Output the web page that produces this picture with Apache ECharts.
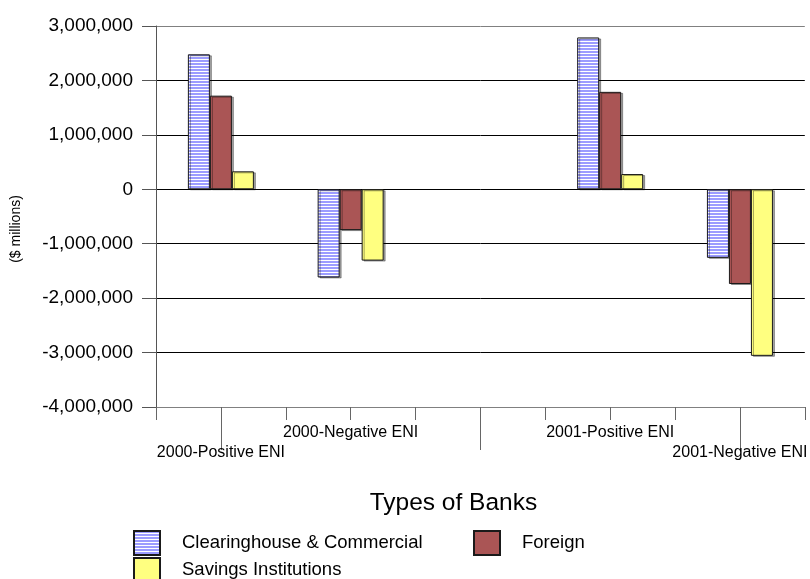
<!DOCTYPE html>
<html>
<head>
<meta charset="utf-8">
<script src="https://cdn.jsdelivr.net/npm/echarts@6/dist/echarts.min.js"></script>
<style>
  html, body { margin: 0; padding: 0; background: #fff; }
  #chart { width: 810px; height: 579px; }
</style>
</head>
<body>
<div id="chart"></div>
<script>
// ---- data ----
const categories = ['2000-Positive ENI', '2000-Negative ENI', '', '2001-Positive ENI', '2001-Negative ENI'];
const seriesNames = ['Clearinghouse & Commercial', 'Foreign', 'Savings Institutions'];
const clearingValues = [2480000, -1620000, null, 2790000, -1260000];
const foreignValues = [1720000, -750000, null, 1790000, -1740000];
const savingsValues = [330000, -1310000, null, 280000, -3060000];
const yTicks = { min: -4000000, max: 3000000, interval: 1000000 };
const xAxisTitle = 'Types of Banks';
const yAxisTitle = '($ millions)';

// ---- styles ----
const FONT = '"Liberation Sans", Arial, sans-serif';

function stripePattern() {
  const c = document.createElement('canvas');
  c.width = 4; c.height = 3;
  const ctx = c.getContext('2d');
  ctx.fillStyle = '#9C9CFF';
  ctx.fillRect(0, 0, 4, 3);
  ctx.fillStyle = '#FFFFFF';
  ctx.fillRect(0, 2, 4, 1);
  return { image: c, repeat: 'repeat' };
}

const barStyle = (color) => ({
  color: color,
  borderColor: '#1a1a1a',
  borderWidth: 1,
  shadowColor: 'rgba(0,0,0,0.35)',
  shadowOffsetX: 2,
  shadowOffsetY: 1,
  shadowBlur: 0
});

const chart = echarts.init(document.getElementById('chart'), null, { renderer: 'canvas' });

const gridLineColors = ['#808080', '#000', '#000', '#000', '#000', '#000', '#000', '#808080'];

const legendCommon = {
  padding: 0,
  itemWidth: 26,
  itemHeight: 24,
  icon: 'rect',
  textStyle: { fontFamily: FONT, fontSize: 18.5, color: '#000', padding: [0, 0, 0, 17] }
};

const option = {
  animation: false,
  backgroundColor: '#fff',
  grid: { left: 156, right: 0, top: 26, bottom: 172, containLabel: false },
  legend: [
    Object.assign({ data: [seriesNames[0]], left: 133, top: 530 }, legendCommon),
    Object.assign({ data: [seriesNames[1]], left: 473, top: 530 }, legendCommon),
    Object.assign({ data: [seriesNames[2]], left: 133, top: 557 }, legendCommon)
  ],
  xAxis: [
    {
      type: 'category',
      data: categories,
      boundaryGap: true,
      position: 'bottom',
      name: xAxisTitle,
      nameLocation: 'middle',
      nameGap: 84,
      nameTextStyle: { fontFamily: FONT, fontSize: 24.5, color: '#000', padding: [0, 54, 0, 0] },
      axisLine: { show: true, onZero: false, lineStyle: { color: '#808080', width: 1 } },
      axisTick: { show: true, alignWithLabel: false, interval: 0, length: 13, lineStyle: { color: '#666' } },
      axisLabel: {
        interval: 0,
        margin: 16,
        fontFamily: FONT,
        fontSize: 16,
        lineHeight: 20,
        color: '#000',
        formatter: (v, i) => (i % 2 === 0 ? '\n' + v : v)
      },
      splitLine: { show: false }
    },
    {
      type: 'category',
      data: categories,
      boundaryGap: true,
      position: 'bottom',
      offset: 0,
      axisLine: { show: false, onZero: false },
      axisTick: { show: true, alignWithLabel: true, interval: (i) => i % 2 === 0, length: 43, lineStyle: { color: '#666' } },
      axisLabel: { show: false },
      splitLine: { show: false }
    },
    {
      type: 'category',
      data: categories,
      boundaryGap: true,
      position: 'bottom',
      offset: 0,
      axisLine: { show: false, onZero: false },
      axisTick: { show: true, alignWithLabel: true, interval: (i) => i % 2 === 1, length: 13, lineStyle: { color: '#666' } },
      axisLabel: { show: false },
      splitLine: { show: false }
    }
  ],
  yAxis: {
    type: 'value',
    min: yTicks.min,
    max: yTicks.max,
    interval: yTicks.interval,
    axisLine: { show: true, onZero: false, lineStyle: { color: '#555', width: 1 } },
    axisTick: { show: true, length: 14, lineStyle: { color: '#555' } },
    axisLabel: {
      margin: 23,
      fontFamily: FONT,
      fontSize: 19,
      color: '#000',
      formatter: (v) => Number(v).toLocaleString('en-US')
    },
    splitLine: { show: true, lineStyle: { color: gridLineColors, width: 1 } }
  },
  graphic: [
    {
      type: 'text',
      x: 16,
      y: 229,
      rotation: Math.PI / 2,
      style: {
        text: yAxisTitle,
        fontFamily: FONT,
        fontSize: 14,
        fill: '#000',
        align: 'center',
        verticalAlign: 'middle'
      }
    }
  ],
  series: [
    { name: seriesNames[0], type: 'bar', xAxisIndex: 0, data: clearingValues, barWidth: 22, barGap: '0%', itemStyle: barStyle(stripePattern()) },
    { name: seriesNames[1], type: 'bar', xAxisIndex: 0, data: foreignValues, barWidth: 22, barGap: '0%', itemStyle: barStyle('#AA5555') },
    { name: seriesNames[2], type: 'bar', xAxisIndex: 0, data: savingsValues, barWidth: 22, barGap: '0%', itemStyle: barStyle('#FFFF80') }
  ]
};

chart.setOption(option);
</script>
</body>
</html>
